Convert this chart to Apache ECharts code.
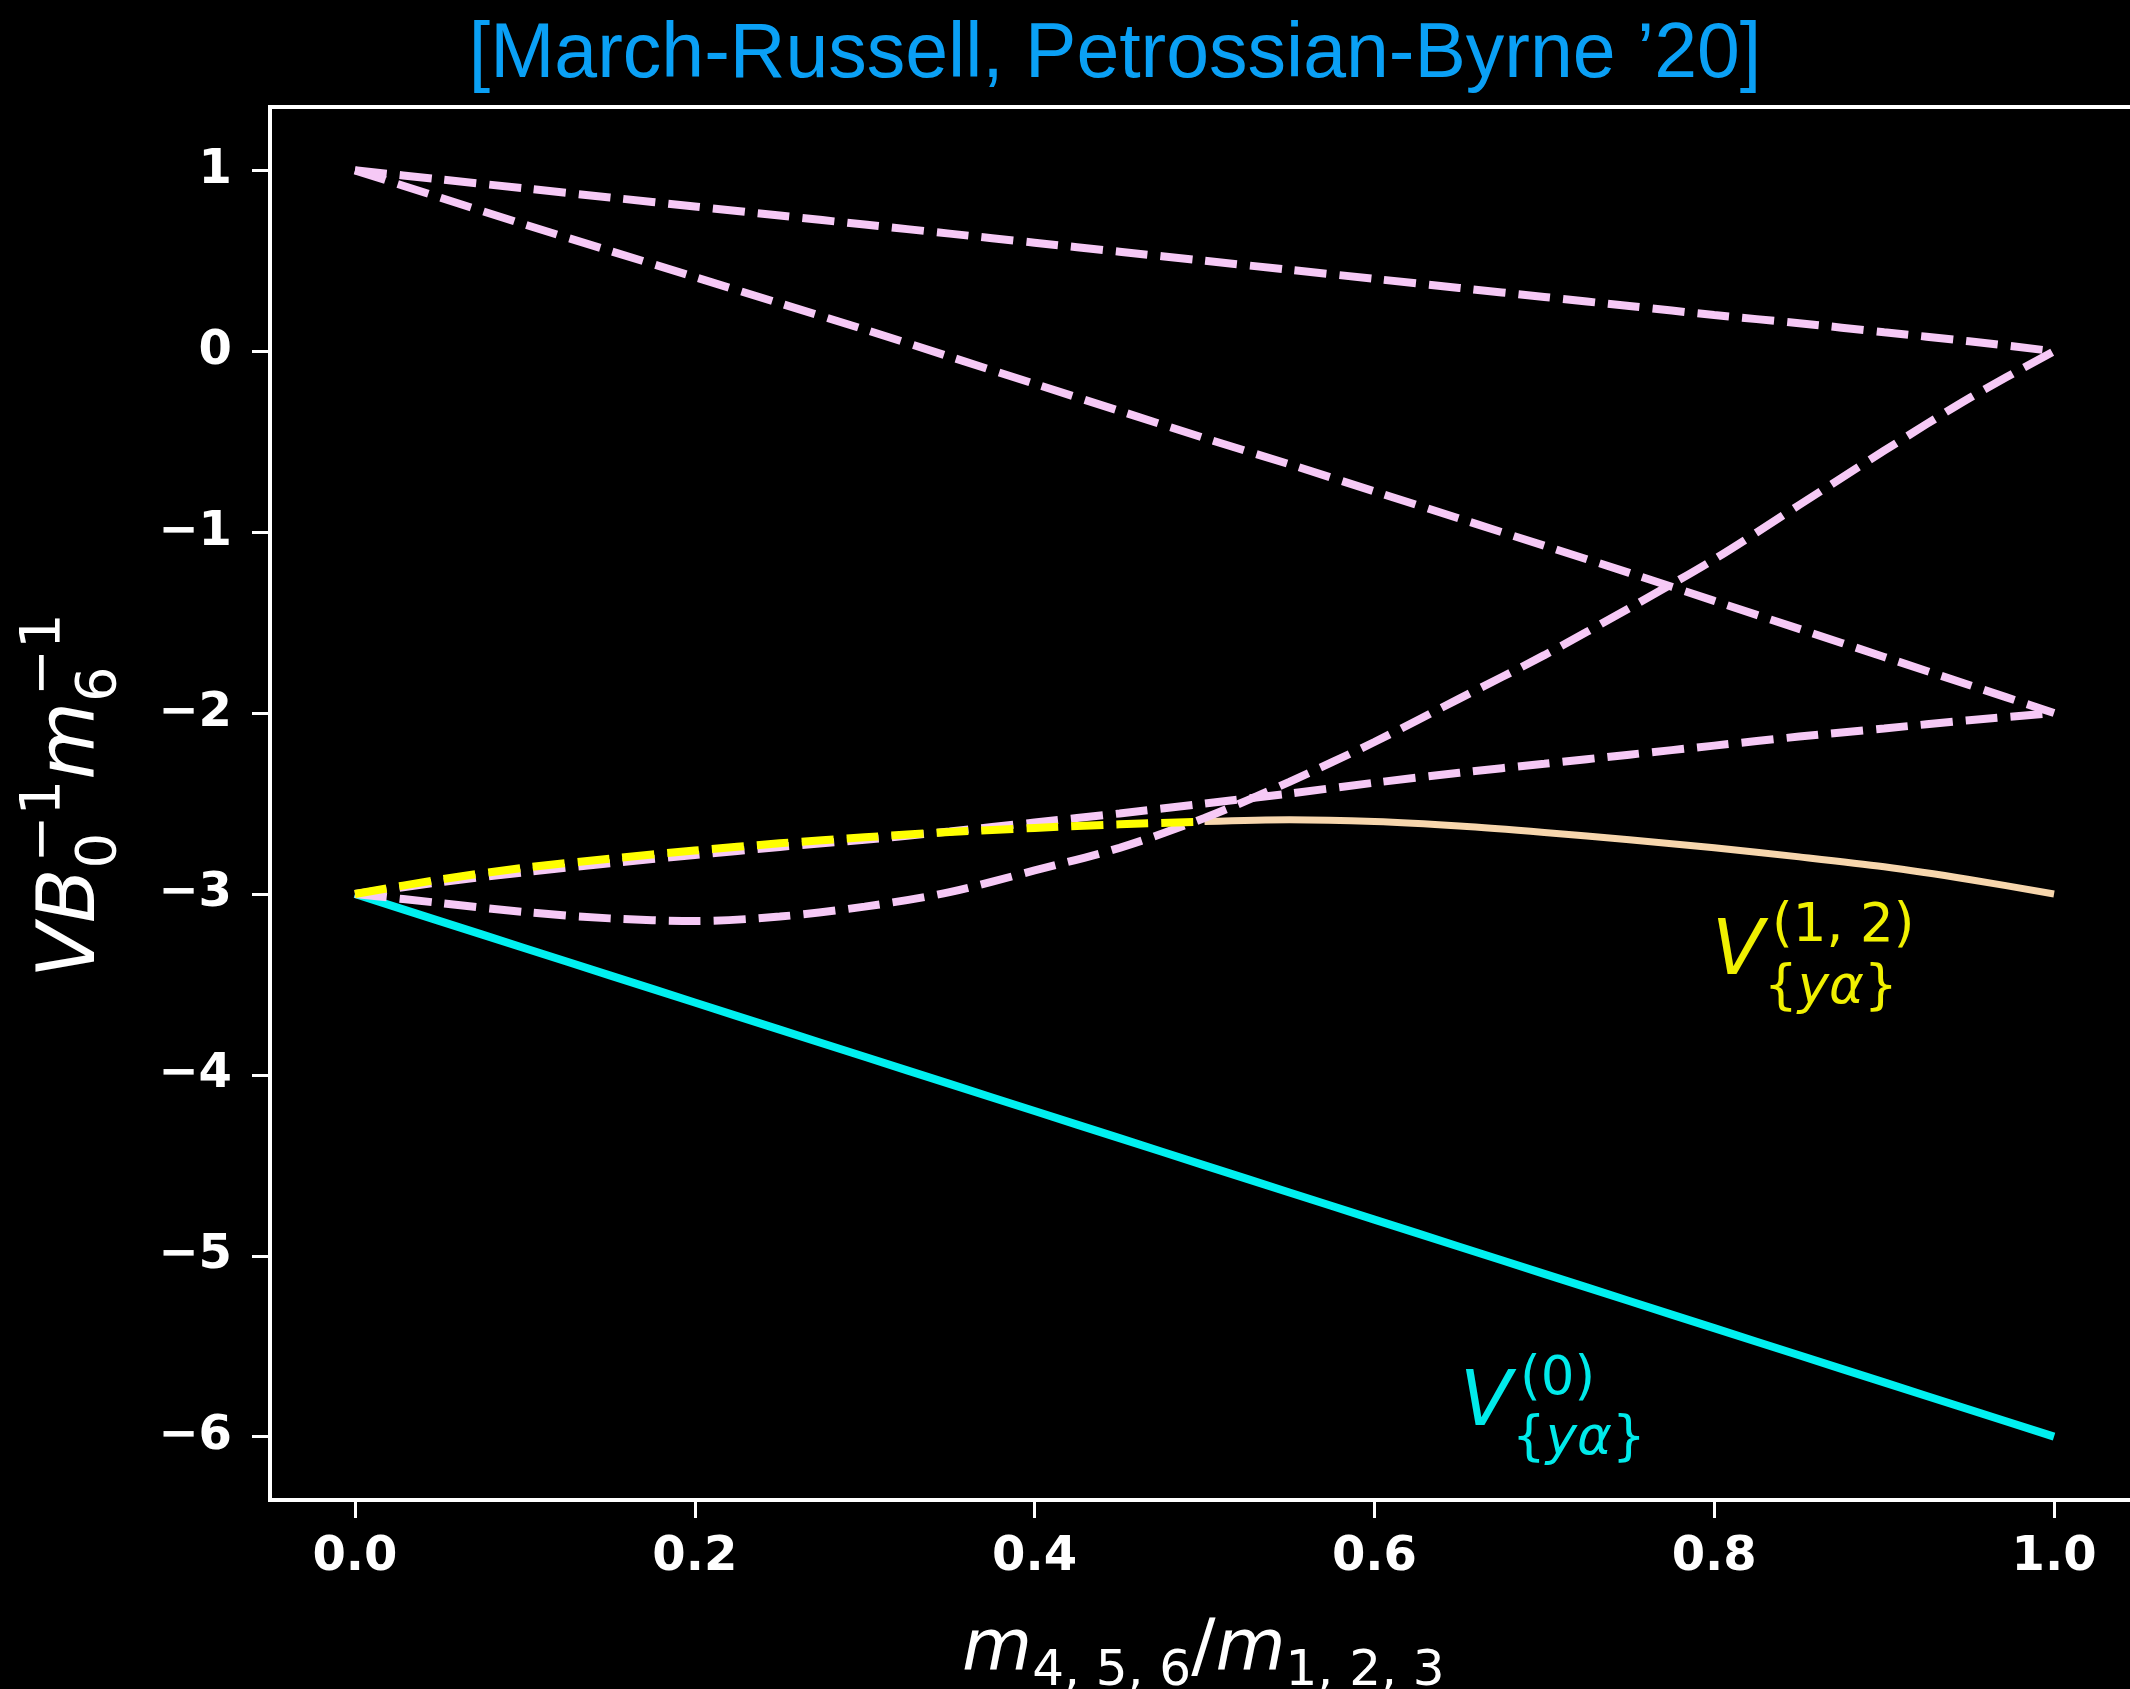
<!DOCTYPE html>
<html><head><meta charset="utf-8">
<style>html,body{margin:0;padding:0;background:#000;}#c{width:2130px;height:1689px;}</style>
<script src="https://cdn.jsdelivr.net/npm/echarts@6/dist/echarts.min.js"></script>
</head><body><div id="c"></div>
<script>
// ---- data ----
const xs = [0, 0.05, 0.1, 0.15, 0.2, 0.25, 0.3, 0.35, 0.4, 0.45, 0.5, 0.55, 0.6, 0.65, 0.7, 0.75, 0.8, 0.85, 0.9, 0.95, 1.0];
const pinkTop  = [1.0, 0.95, 0.9, 0.85, 0.8, 0.75, 0.7, 0.65, 0.6, 0.55, 0.5, 0.45, 0.4, 0.35, 0.3, 0.25, 0.2, 0.155, 0.105, 0.055, 0.0];
const pinkFall = [1.0, 0.85, 0.7, 0.555, 0.41, 0.265, 0.12, -0.03, -0.18, -0.33, -0.48, -0.625, -0.775, -0.925, -1.075, -1.225, -1.38, -1.535, -1.69, -1.845, -2.0];
const pinkRise = [-3.0, -3.05, -3.10, -3.135, -3.15, -3.125, -3.07, -2.99, -2.87, -2.745, -2.58, -2.38, -2.16, -1.92, -1.68, -1.42, -1.15, -0.85, -0.55, -0.26, 0.0];
const pinkLow  = [-3.0, -2.935, -2.88, -2.83, -2.785, -2.74, -2.70, -2.655, -2.605, -2.555, -2.50, -2.445, -2.385, -2.33, -2.28, -2.23, -2.18, -2.13, -2.085, -2.04, -2.0];
const yellowX = [0, 0.05, 0.1, 0.15, 0.2, 0.25, 0.3, 0.35, 0.4, 0.45, 0.5];
const yellowY = [-3.0, -2.92, -2.855, -2.805, -2.76, -2.72, -2.687, -2.658, -2.635, -2.615, -2.60];
const tanX = [0.5, 0.55, 0.6, 0.65, 0.7, 0.75, 0.8, 0.85, 0.9, 0.95, 1.0];
const tanY = [-2.60, -2.59, -2.60, -2.625, -2.66, -2.70, -2.745, -2.795, -2.85, -2.92, -3.0];
const cyanY = [-3.0, -3.15, -3.3, -3.45, -3.6, -3.75, -3.9, -4.05, -4.2, -4.35, -4.5, -4.65, -4.8, -4.95, -5.1, -5.25, -5.4, -5.55, -5.7, -5.85, -6.0];
const xTicks = [0, 0.2, 0.4, 0.6, 0.8, 1.0];
const yTicks = [-6, -5, -4, -3, -2, -1, 0, 1];
const titleText = '[March-Russell, Petrossian-Byrne \u201920]';

const zip = (a, b) => a.map((v, i) => [v, b[i]]);

// ---- math-like text layout helper ----
const cvs = document.createElement('canvas').getContext('2d');
const FAM = '"DejaVu Sans"';
function tw(t, size, it) { cvs.font = (it ? 'italic ' : '') + size + 'px ' + FAM; return cvs.measureText(t).width; }
function seg(t, size, it, x, base, color) {
  return { type: 'text', x: x, y: base - 0.3 * size, silent: true,
    style: { text: t, fill: color, fontSize: size, fontFamily: 'DejaVu Sans', fontStyle: it ? 'italic' : 'normal',
      align: 'left', verticalAlign: 'middle' } };
}
function run(segs, size, x, base, color, out) {
  for (const [t, it] of segs) { out.push(seg(t, size, it, x, base, color)); x += tw(t, size, it); }
  return x;
}
function runW(segs, size) { return segs.reduce((s, [t, it]) => s + tw(t, size, it), 0); }
function math(pieces, x0, base, color, F, Fs, opt) {
  opt = opt || {};
  const out = []; let x = x0;
  for (const p of pieces) {
    if (p.m) { x = run(p.m, F, x, base, color, out); continue; }
    const stacked = p.sup && p.sub;
    const supUp = opt.supUp != null ? opt.supUp : 0.44 * F;
    const subDn = stacked ? (opt.subDnS != null ? opt.subDnS : 0.36 * F) : (opt.subDn != null ? opt.subDn : 0.2 * F);
    let w = 0;
    if (p.sup) { run(p.sup, Fs, x + (p.kern || 0), base - supUp, color, out); w = Math.max(w, runW(p.sup, Fs) + (p.kern || 0)); }
    if (p.sub) { run(p.sub, Fs, x, base + subDn, color, out); w = Math.max(w, runW(p.sub, Fs)); }
    x += w + (p.gap || 0);
  }
  return out;
}

const chart = echarts.init(document.getElementById('c'), null, { renderer: 'canvas' });
const lineBase = { type: 'line', showSymbol: false, smooth: 0.3, animation: false };
const pinkStyle = { color: '#f6c9f6', width: 8, type: [32, 13] };

const yLab = math([
  { m: [['V', true], ['B', true]] },
  { sup: [['\u22121', false]], sub: [['0', false]], kern: 6 },
  { m: [['m', true]] },
  { sup: [['\u22121', false]], sub: [['6', false]], kern: 6 }
], 0, 0, '#ffffff', 80, 56, { supUp: 36, subDnS: 20 });

const xLab = math([
  { m: [['m', true]] },
  { sub: [['4, 5, 6', false]] },
  { m: [['/', false], ['m', true]] },
  { sub: [['1, 2, 3', false]] }
], 962, 1672, '#ffffff', 72, 50, { subDn: 15 });

const ann12 = math([
  { m: [['V', true]] },
  { sup: [['(1, 2)', false]], sub: [['{', false], ['y\u03b1', true], ['}', false]], kern: 8 }
], 1712, 977, '#f0f000', 76, 53, { supUp: 34, subDnS: 28 });

const ann0 = math([
  { m: [['V', true]] },
  { sup: [['(0)', false]], sub: [['{', false], ['y\u03b1', true], ['}', false]], kern: 8 }
], 1460, 1428, '#00eaea', 76, 53, { supUp: 32, subDnS: 28 });

chart.setOption({
  backgroundColor: '#000000',
  animation: false,
  grid: { left: 270, top: 107, width: 1869, height: 1393, show: true, borderColor: '#ffffff', borderWidth: 4,
    containLabel: false, outerBoundsMode: 'none' },
  xAxis: {
    type: 'value', min: -0.05, max: 1.05,
    axisLine: { show: true, onZero: false, lineStyle: { color: '#ffffff', width: 4 } },
    splitLine: { show: false },
    axisTick: { show: true, customValues: xTicks, length: 18, lineStyle: { color: '#ffffff', width: 3 } },
    axisLabel: { customValues: xTicks, formatter: v => v.toFixed(1), color: '#ffffff', fontFamily: 'DejaVu Sans', fontWeight: 'bold', fontSize: 48, margin: 34 }
  },
  yAxis: {
    type: 'value', min: -6.35, max: 1.35,
    axisLine: { show: true, onZero: false, lineStyle: { color: '#ffffff', width: 4 } },
    splitLine: { show: false },
    axisTick: { show: true, customValues: yTicks, length: 18, lineStyle: { color: '#ffffff', width: 3 } },
    axisLabel: { customValues: yTicks, formatter: v => (v < 0 ? '\u2212' + Math.abs(v) : String(v)), color: '#ffffff', fontFamily: 'DejaVu Sans', fontWeight: 'bold', fontSize: 48, margin: 38 }
  },
  series: [
    Object.assign({}, lineBase, { name: 'V0', data: zip(xs, cyanY), lineStyle: { color: '#00f0f0', width: 8 }, z: 2 }),
    Object.assign({}, lineBase, { name: 'tan', data: zip(tanX, tanY), lineStyle: { color: '#f7d6ad', width: 7 }, z: 3 }),
    Object.assign({}, lineBase, { name: 'p1', data: zip(xs, pinkTop), lineStyle: pinkStyle, z: 4 }),
    Object.assign({}, lineBase, { name: 'p2', data: zip(xs, pinkFall), lineStyle: pinkStyle, z: 4 }),
    Object.assign({}, lineBase, { name: 'p3', data: zip(xs, pinkRise), lineStyle: pinkStyle, z: 4 }),
    Object.assign({}, lineBase, { name: 'p4', data: zip(xs, pinkLow), lineStyle: pinkStyle, z: 4 }),
    Object.assign({}, lineBase, { name: 'yellow', data: zip(yellowX, yellowY), lineStyle: { color: '#ffff00', width: 8, type: [32, 13] }, z: 5 })
  ],
  graphic: [
    { type: 'text', x: 1115, y: 56, silent: true,
      style: { text: titleText, fill: '#0aa0f5', fontSize: 77, fontFamily: 'Liberation Sans', align: 'center', verticalAlign: 'middle' } },
    { type: 'group', x: 97, y: 978, rotation: Math.PI / 2, children: yLab },
    { type: 'group', children: xLab },
    { type: 'group', children: ann12 },
    { type: 'group', children: ann0 }
  ]
});
</script></body></html>
